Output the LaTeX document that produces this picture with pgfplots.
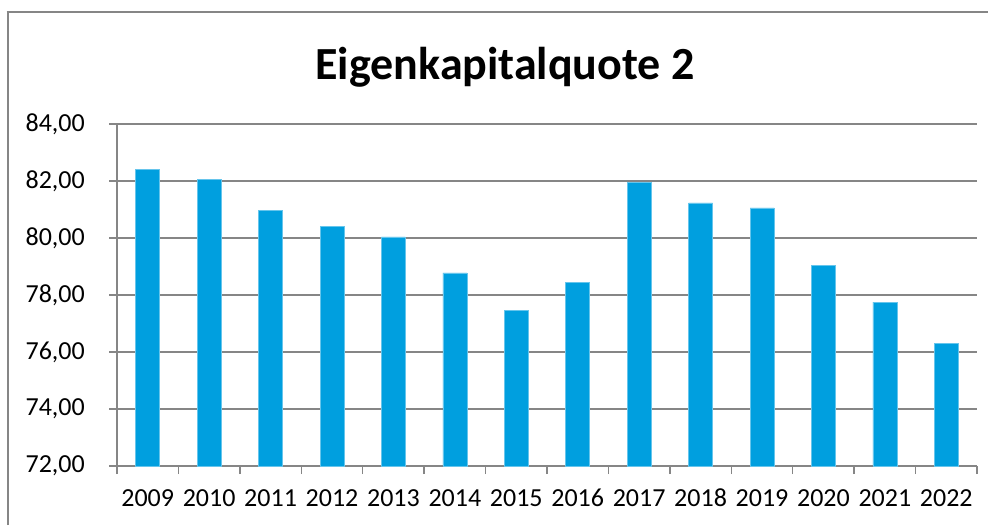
\documentclass[border=0pt]{standalone}
\usepackage{pgfplots}
\pgfplotsset{compat=1.18}
\usepackage{fontspec}
\setmainfont{Carlito}
\definecolor{barblue}{HTML}{009FDF}
\definecolor{gridgray}{HTML}{868686}
\begin{document}
\begin{tikzpicture}[x=1pt,y=1pt]
\useasboundingbox (0,0) rectangle (995,525);
\draw[gridgray, line width=2pt] (7.5,0) -- (7.5,514);
\draw[gridgray, line width=2pt] (6.5,513) -- (988,513);
\node[anchor=base, font=\fontsize{46}{52}\selectfont\bfseries] at (505,445) {Eigenkapitalquote 2};
\begin{axis}[
  at={(117pt,59pt)}, anchor=south west,
  scale only axis, width=860pt, height=342pt,
  xmin=-0.5, xmax=13.5, ymin=72, ymax=84,
  ytick={72,74,...,84},
  xtick={-0.5,0.5,...,13.5},
  xticklabels={},
  extra x ticks={0,...,13},
  extra x tick labels={2009,2010,2011,2012,2013,2014,2015,2016,2017,2018,2019,2020,2021,2022},
  extra x tick style={major tick length=0pt, xticklabel style={anchor=base, inner sep=0pt, yshift=-40pt}},
  major tick length=8pt,
  tick align=outside,
  axis x line*=bottom, axis y line*=left,
  axis line style={draw=gridgray, line width=1.5pt},
  tick style={draw=gridgray, line width=1.5pt},
  ymajorgrids,
  major grid style={draw=gridgray, line width=1.5pt},
  /pgf/number format/fixed,
  /pgf/number format/fixed zerofill,
  /pgf/number format/precision=2,
  /pgf/number format/use comma,
  /pgf/number format/assume math mode=true,
  ticklabel style={font=\fontsize{26}{30}\selectfont, text=black},
  yticklabel style={anchor=east, inner sep=0pt, xshift=-24pt},
  clip=false,
]
\addplot[ybar, bar width=24pt, fill=barblue, draw=barblue!60, line width=0.5pt, bar shift=0pt]
coordinates {
(0,82.41) (1,82.07) (2,80.96) (3,80.40) (4,80.04) (5,78.78) (6,77.47) (7,78.45)
(8,81.96) (9,81.23) (10,81.06) (11,79.04) (12,77.75) (13,76.29)
};
\end{axis}
\end{tikzpicture}
\end{document}
